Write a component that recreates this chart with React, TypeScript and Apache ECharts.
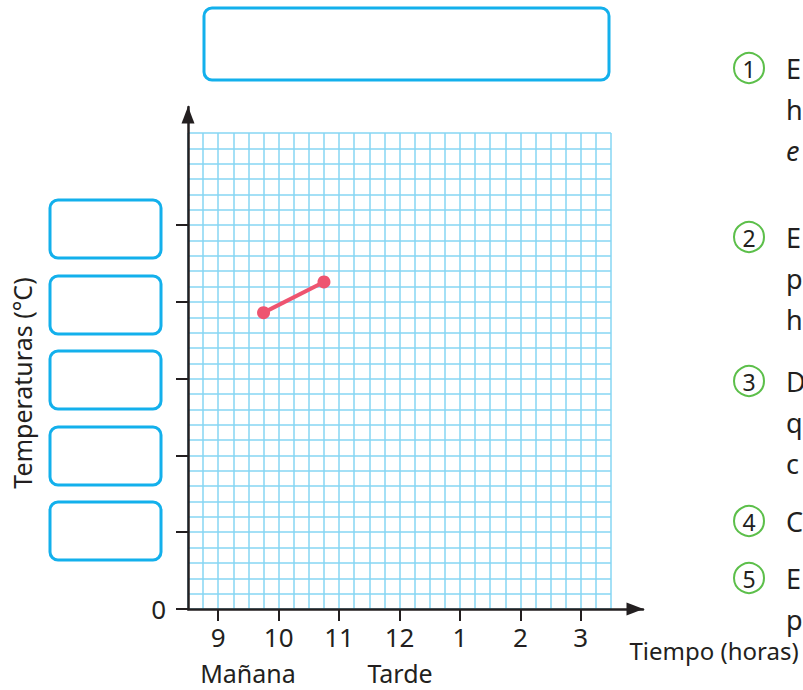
import React, { useEffect, useRef } from "react";
import * as echarts from "echarts";

// ---- data ----
const hourTicks = [9, 10, 11, 12, 13, 14, 15];
const hourLabels = ["9", "10", "11", "12", "1", "2", "3"];
const tempTicks = [0, 5, 10, 15, 20, 25];
const tempLabelValues = [0];
const seriesHours = [9.75, 10.75];
const seriesTemps = [19.3, 21.3];
const periodNames = ["Mañana", "Tarde"];
const yTitle = "Temperaturas (°C)";
const xTitle = "Tiempo (horas)";
const questionNumbers = ["1", "2", "3", "4", "5"];
const questionLines = [["E", "h", "e"], ["E", "p", "h"], ["D", "q", "c"], ["C"], ["E", "p"]];

export default function App() {
  const ref = useRef<HTMLDivElement>(null);
  useEffect(() => {
    if (!ref.current) return;
    const chart = echarts.init(ref.current, null, { renderer: "svg" });
    const FONT = "'Noto Sans', sans-serif";
    const INK = "#231f20";
    const BLUE = "#13b0ec";
    const GRIDBLUE = "#86d6f3";

    // paper grid
    const pL = 188, pT = 133, pW = 423, pH = 476, cols = 28, rows = 31;
    // axes grid (extends to the arrows)
    const aL = 188, aT = 107, aW = 455, aH = 502;
    const hMin = 8.5, hSpan = 7;
    const hMax = hMin + (aW * hSpan) / pW;
    const tMax = (aH * rows) / pH;

    const boxes: any[] = [];
    const boxYs = [200, 276, 351, 427, 502];
    boxYs.forEach((y) =>
      boxes.push({
        type: "rect",
        shape: { x: 50, y, width: 111, height: 58, r: 8 },
        style: { fill: "#fff", stroke: BLUE, lineWidth: 3 },
      })
    );
    boxes.push({
      type: "rect",
      shape: { x: 204, y: 8, width: 405, height: 72, r: 8 },
      style: { fill: "#fff", stroke: BLUE, lineWidth: 3 },
    });

    const texts: any[] = [];
    texts.push({
      type: "text",
      x: 22,
      y: 383,
      rotation: Math.PI / 2,
      style: { text: yTitle, font: `25px ${FONT}`, fill: INK, align: "center", verticalAlign: "middle" },
    });
    texts.push({
      type: "text",
      x: 714,
      y: 650,
      style: { text: xTitle, font: `24px ${FONT}`, fill: INK, align: "center", verticalAlign: "middle" },
    });
    const periodX = [248, 400];
    periodNames.forEach((n, i) =>
      texts.push({
        type: "text",
        x: periodX[i],
        y: 673,
        style: { text: n, font: `25px ${FONT}`, fill: INK, align: "center", verticalAlign: "middle" },
      })
    );

    const circleYs = [68, 237, 381, 521, 578];
    const lineGap = 41;
    questionNumbers.forEach((num, i) => {
      const cy = circleYs[i];
      texts.push({
        type: "circle",
        shape: { cx: 749, cy, r: 15 },
        style: { fill: "none", stroke: "#5cbf4a", lineWidth: 2 },
      });
      texts.push({
        type: "text",
        x: 749,
        y: cy + 1,
        style: { text: num, font: `23px ${FONT}`, fill: INK, align: "center", verticalAlign: "middle" },
      });
      questionLines[i].forEach((t, j) =>
        texts.push({
          type: "text",
          x: 786,
          y: cy + j * lineGap,
          style: {
            text: t,
            font: `${i === 0 && j === 2 ? "italic " : ""}27px ${FONT}`,
            fill: INK,
            align: "left",
            verticalAlign: "middle",
          },
        })
      );
    });

    chart.setOption({
      animation: false,
      backgroundColor: "#fff",
      grid: [
        { left: aL, top: aT, width: aW, height: aH },
        { left: pL, top: pT, width: pW, height: pH },
      ],
      xAxis: [
        {
          type: "value",
          gridIndex: 0,
          min: hMin,
          max: hMax,
          z: 5,
          axisLine: {
            show: true,
            onZero: false,
            lineStyle: { color: INK, width: 2.5 },
            symbol: ["none", "triangle"],
            symbolSize: [13, 17],
            symbolOffset: [0, -8],
          },
          axisTick: { show: true, length: 12, lineStyle: { color: INK, width: 2 }, customValues: hourTicks },
          axisLabel: {
            show: true,
            customValues: hourTicks,
            formatter: (v: number) => hourLabels[hourTicks.indexOf(Math.round(v))] ?? "",
            color: INK,
            fontFamily: FONT,
            fontSize: 26,
            margin: 15,
          },
          splitLine: { show: false },
        },
        {
          type: "value",
          gridIndex: 1,
          min: 0,
          max: cols,
          interval: 1,
          z: 0,
          axisLine: { show: false },
          axisTick: { show: false },
          axisLabel: { show: false },
          splitLine: { show: true, lineStyle: { color: GRIDBLUE, width: 1.5 } },
        },
      ],
      yAxis: [
        {
          type: "value",
          gridIndex: 0,
          min: 0,
          max: tMax,
          z: 5,
          axisLine: {
            show: true,
            onZero: false,
            lineStyle: { color: INK, width: 2.5 },
            symbol: ["none", "triangle"],
            symbolSize: [13, 17],
            symbolOffset: [0, -8],
          },
          axisTick: { show: true, length: 12, lineStyle: { color: INK, width: 2 }, customValues: tempTicks },
          axisLabel: {
            show: true,
            customValues: tempLabelValues,
            color: INK,
            fontFamily: FONT,
            fontSize: 26,
            margin: 22,
          },
          splitLine: { show: false },
        },
        {
          type: "value",
          gridIndex: 1,
          min: 0,
          max: rows,
          interval: 1,
          z: 0,
          axisLine: { show: false },
          axisTick: { show: false },
          axisLabel: { show: false },
          splitLine: { show: true, lineStyle: { color: GRIDBLUE, width: 1.5 } },
        },
      ],
      series: [
        {
          type: "line",
          xAxisIndex: 0,
          yAxisIndex: 0,
          z: 10,
          data: seriesHours.map((h, i) => [h, seriesTemps[i]]),
          color: "#ee5470",
          lineStyle: { color: "#ee5470", width: 4 },
          itemStyle: { color: "#ee5470" },
          symbol: "circle",
          symbolSize: 13,
        },
      ],
      graphic: [...boxes, ...texts],
    });
    return () => chart.dispose();
  }, []);
  return <div ref={ref} style={{ width: 803, height: 690, position: "absolute", left: 0, top: 0 }} />;
}
